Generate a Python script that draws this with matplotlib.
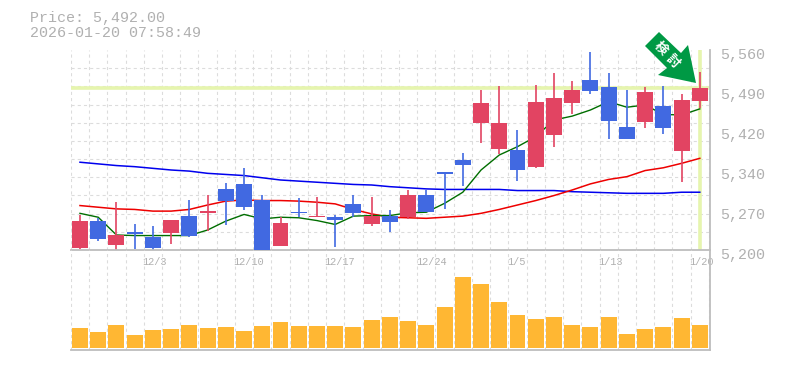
import matplotlib
matplotlib.use("Agg")
import matplotlib.pyplot as plt
from matplotlib.patches import Polygon
from matplotlib.transforms import ScaledTranslation

opens  = [5204,5252,5209,5232,5223,5231,5261,5267,5310,5319,5290,5207,5268,5259,5259,5283,5247,5261,5259,5299,5340,5362,5429,5382,5380,5349,5407,5465,5506,5493,5421,5430,5459,5378,5468]
closes = [5252,5220,5227,5229,5204,5254,5225,5270,5288,5277,5200,5249,5267,5261,5254,5267,5261,5250,5299,5268,5337,5353,5465,5429,5344,5466,5474,5488,5486,5432,5400,5484,5420,5470,5492]
highs  = [5263,5258,5286,5247,5243,5254,5290,5299,5321,5348,5299,5259,5294,5295,5263,5299,5295,5272,5308,5308,5340,5375,5488,5495,5416,5497,5519,5504,5556,5519,5488,5493,5495,5481,5520]
lows   = [5202,5216,5200,5202,5200,5211,5223,5234,5245,5272,5200,5207,5259,5259,5205,5259,5243,5232,5256,5268,5274,5315,5393,5373,5324,5348,5385,5445,5481,5400,5400,5420,5409,5322,5456]
ma_short = [5266,5259,5227,5226,5226,5226,5226,5236,5252,5264,5256,5259,5258,5253,5246,5261,5262,5262,5267,5268,5284,5304,5344,5371,5386,5404,5434,5441,5452,5467,5457,5461,5444,5443,5454]
ma_mid   = [5280,5277,5274,5273,5270,5270,5273,5281,5288,5290,5289,5289,5288,5286,5283,5273,5265,5259,5258,5257,5259,5261,5266,5273,5281,5289,5298,5308,5319,5327,5332,5343,5348,5356,5365]
ma_long  = [5358,5355,5352,5350,5347,5344,5342,5338,5336,5334,5330,5326,5324,5322,5320,5318,5317,5314,5312,5310,5309,5309,5309,5309,5307,5307,5307,5305,5304,5303,5302,5302,5302,5304,5304]
volumes  = [60,48,69,39,54,57,69,60,63,51,66,78,66,66,66,63,84,93,81,69,123,213,192,138,99,87,93,69,63,93,42,57,63,90,69]
date_pos = [4,9,14,19,24,29,34]
date_labels = ["12/3","12/10","12/17","12/24","1/5","1/13","1/20"]
price_ticks = [5200,5272,5344,5416,5488,5560]
price_labels = ["5,200","5,270","5,340","5,420","5,490","5,560"]
last_price = 5492
title_lines = ["Price: 5,492.00","2026-01-20 07:58:49"]
badge_chars = ["検", "討"]

W, H = 785, 370
GREY = "#bdbdbd"; GRID = "#dcdcdc"; TXT = "#b0b0b0"
RED = "#e24462"; BLUE = "#4169e1"; HL = "#e6f5ae"; VOL = "#ffb733"; ARROW = "#009944"
MONO = ["Liberation Mono", "DejaVu Sans Mono"]

fig = plt.figure(figsize=(W/100, H/100), dpi=100, facecolor="white")
def box(x0, y0, x1, y1):
    return [x0/W, 1-y1/H, (x1-x0)/W, (y1-y0)/H]

ax = fig.add_axes(box(70.5, 50, 710, 250))
av = fig.add_axes(box(70.5, 250, 710, 350), sharex=ax)
n = len(opens)
xs = list(range(n))
ax.set_xlim(-0.52, 34.56)
ax.set_ylim(5200, 5560)
av.set_ylim(-6, 294)

grid_y = [5200 + 360*k/11 for k in range(12)]
grid_x = [i-0.5 for i in range(n+1)]
ax.set_yticks(grid_y, minor=True)
ax.set_xticks(grid_x, minor=True)
av.set_xticks(grid_x, minor=True)
ax.grid(which="minor", color=GRID, lw=0.8, ls=(0, (2.8, 2.8)), zorder=0)
av.grid(which="minor", axis="x", color=GRID, lw=0.8, ls=(0, (2.8, 2.8)), zorder=0)
for a in (ax, av):
    a.set_axisbelow(True)
    a.patch.set_alpha(0)
    a.tick_params(which="both", length=0)
    for s in ("top", "left"):
        a.spines[s].set_visible(False)
    for s in ("bottom", "right"):
        a.spines[s].set_color(GREY)
        a.spines[s].set_linewidth(1.3)

ax.axhline(last_price, color=HL, lw=2.6, zorder=1)
ax.axvline(34, color=HL, lw=2.6, zorder=1)

ax.plot(xs, ma_long, color="#0000ee", lw=1.1, zorder=1.5)
ax.plot(xs, ma_mid, color="#ee0000", lw=1.1, zorder=1.5)
ax.plot(xs, ma_short, color="#006e00", lw=1.0, zorder=1.5)

for i in xs:
    c = RED if closes[i] >= opens[i] else BLUE
    ax.vlines(i, lows[i], highs[i], color=c, lw=1.2, zorder=2)
    b = min(opens[i], closes[i])
    ax.bar(i, abs(closes[i]-opens[i]), bottom=b, width=0.875, color=c, lw=0, zorder=3)

ax.set_yticks(price_ticks, price_labels, family=MONO, fontsize=10.8, color=TXT)
ax.yaxis.tick_right()
ax.tick_params(axis="y", pad=7.5, labelcolor=TXT)
shift = ScaledTranslation(0, -3/100, fig.dpi_scale_trans)
for t in ax.get_yticklabels():
    t.set_transform(t.get_transform() + shift)

av.bar(xs, volumes, width=0.875, color=VOL, lw=0, zorder=3)
av.set_yticks([])
plt.setp(ax.get_xticklabels(), visible=False)
av.set_xticks(date_pos)
av.set_xticklabels(date_labels, family=MONO, fontsize=7.4, color=TXT, ha="left")
av.xaxis.set_ticks_position("top")
av.tick_params(axis="x", pad=-12.2, which="major", labelcolor=TXT, top=False, bottom=False, labeltop=True, labelbottom=False)
shift2 = ScaledTranslation(-10.5/100, 0, fig.dpi_scale_trans)
for t in av.get_xticklabels():
    t.set_transform(t.get_transform() + shift2)

for k, line in enumerate(title_lines):
    fig.text(30/W, 1-(18+15*k)/H, line, family=MONO, fontsize=10.8, color=TXT, va="center", ha="left")

# badge arrow, placed in figure pixels
def fp(px, py):
    return (px/W, 1-py/H)
outline = [(659,32),(645,46),(667,68),(658,75),(696,83),(688,45),(681,53)]
fig.add_artist(Polygon([fp(*p) for p in outline], closed=True, transform=fig.transFigure,
                       facecolor=ARROW, edgecolor="none", zorder=10))
for ch, pos in zip(badge_chars, [(660.7, 48), (672.7, 60.7)]):
    fig.text(*fp(*pos), ch, family=["Noto Sans CJK JP", "DejaVu Sans"], fontsize=9.5, fontweight="bold",
             color="white", rotation=-45, rotation_mode="anchor", ha="center", va="center", zorder=11)

fig.savefig("out.png", dpi=100)
